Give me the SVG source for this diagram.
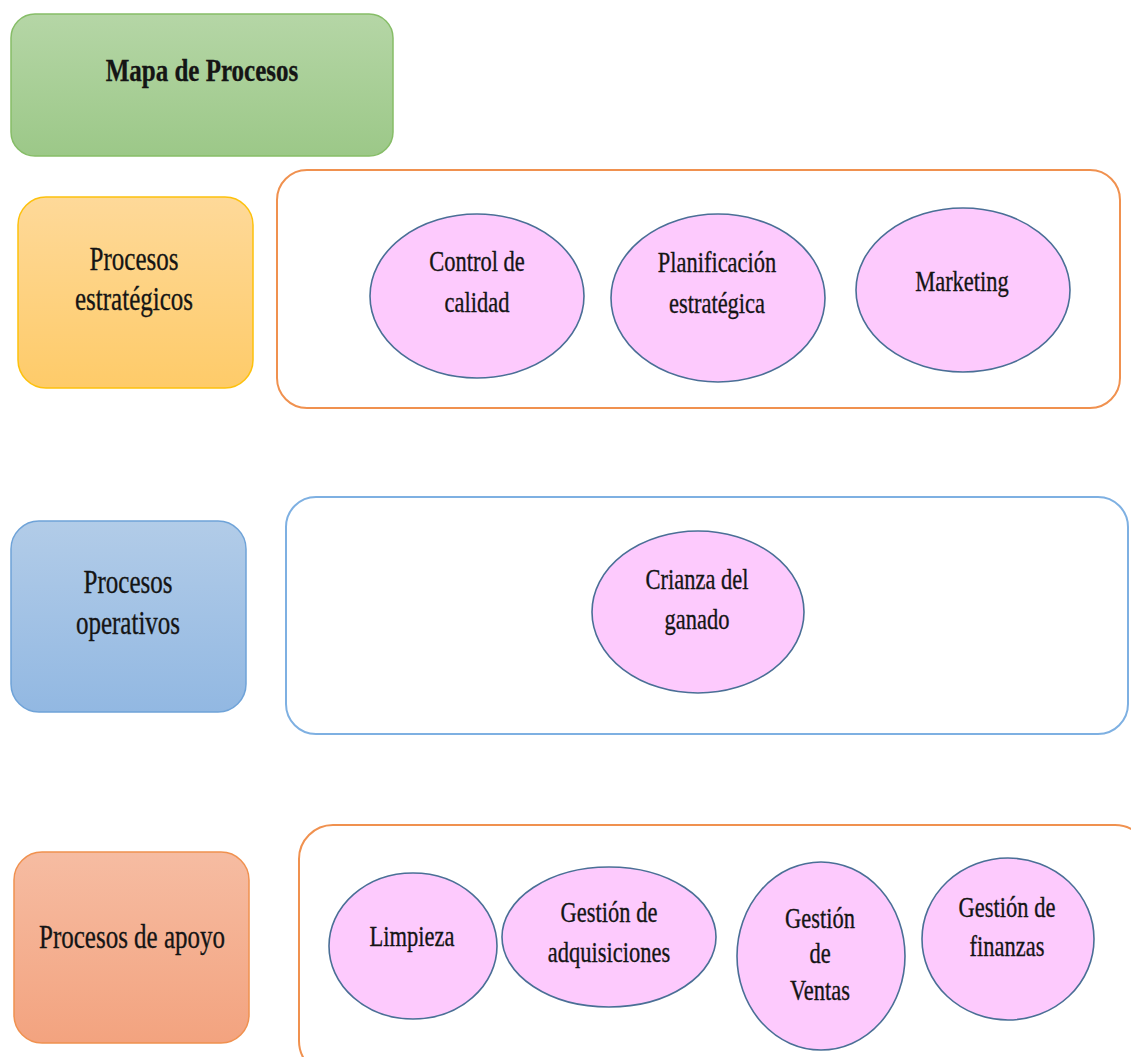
<svg xmlns="http://www.w3.org/2000/svg" width="1131" height="1057" viewBox="0 0 1131 1057">
<defs>
<linearGradient id="gGreen" x1="0" y1="0" x2="0" y2="1"><stop offset="0" stop-color="#b5d6a6"/><stop offset="1" stop-color="#9cc888"/></linearGradient>
<linearGradient id="gYellow" x1="0" y1="0" x2="0" y2="1"><stop offset="0" stop-color="#fed999"/><stop offset="1" stop-color="#fecb69"/></linearGradient>
<linearGradient id="gBlue" x1="0" y1="0" x2="0" y2="1"><stop offset="0" stop-color="#b2cce8"/><stop offset="1" stop-color="#92b8e2"/></linearGradient>
<linearGradient id="gOrange" x1="0" y1="0" x2="0" y2="1"><stop offset="0" stop-color="#f6bca2"/><stop offset="1" stop-color="#f3a37f"/></linearGradient>
<style>
.t{font-family:"Liberation Serif","Times New Roman",serif;fill:#151515;stroke:#151515;stroke-width:0.25;text-anchor:middle}
.lbl{font-size:25px}
.el{font-size:22.5px}
.title{font-size:25px;font-weight:bold}
.proc{fill:#fdcafd;stroke:#4a6f96;stroke-width:1.6}
.cont{fill:#ffffff;stroke-width:2}
</style>
</defs>
<rect width="1131" height="1057" fill="#ffffff"/>

<g id="title">
<rect x="11" y="14" width="382" height="142" rx="24" fill="url(#gGreen)" stroke="#86bd67" stroke-width="1.5"/>
<text class="t title" transform="translate(202,81) scale(1,1.28)">Mapa de Procesos</text>
</g>

<g id="lbl-estrategicos">
<rect x="18" y="197" width="235" height="191" rx="28" fill="url(#gYellow)" stroke="#fdc10d" stroke-width="1.5"/>
<text class="t lbl" transform="translate(134,270) scale(1,1.38)">Procesos</text>
<text class="t lbl" transform="translate(134,310) scale(1,1.38)">estratégicos</text>
</g>

<g id="cont-estrategicos">
<rect x="277" y="170" width="843" height="238" rx="30" class="cont" stroke="#f0914f"/>
</g>

<g id="control-calidad">
<ellipse cx="477" cy="296" rx="107" ry="82" class="proc"/>
<text class="t el" transform="translate(477,271) scale(1,1.35)">Control de</text>
<text class="t el" transform="translate(477,312) scale(1,1.35)">calidad</text>
</g>

<g id="planificacion">
<ellipse cx="718" cy="298" rx="107" ry="84" class="proc"/>
<text class="t el" transform="translate(717,272) scale(1,1.35)">Planificación</text>
<text class="t el" transform="translate(717,313) scale(1,1.35)">estratégica</text>
</g>

<g id="marketing">
<ellipse cx="963" cy="290" rx="107" ry="82" class="proc"/>
<text class="t el" transform="translate(962,291) scale(1,1.35)">Marketing</text>
</g>

<g id="lbl-operativos">
<rect x="11" y="521" width="235" height="191" rx="28" fill="url(#gBlue)" stroke="#6fa3d8" stroke-width="1.5"/>
<text class="t lbl" transform="translate(128,593) scale(1,1.38)">Procesos</text>
<text class="t lbl" transform="translate(128,634) scale(1,1.38)">operativos</text>
</g>

<g id="cont-operativos">
<rect x="286" y="497" width="842" height="237" rx="30" class="cont" stroke="#7eb0e2"/>
</g>

<g id="crianza">
<ellipse cx="698" cy="612" rx="106" ry="81" class="proc"/>
<text class="t el" transform="translate(697,589) scale(1,1.35)">Crianza del</text>
<text class="t el" transform="translate(697,629) scale(1,1.35)">ganado</text>
</g>

<g id="lbl-apoyo">
<rect x="14" y="852" width="235" height="191" rx="28" fill="url(#gOrange)" stroke="#f0914f" stroke-width="1.5"/>
<text class="t lbl" transform="translate(132,948) scale(1,1.38)">Procesos de apoyo</text>
</g>

<g id="cont-apoyo">
<rect x="299" y="825" width="850" height="250" rx="34" class="cont" stroke="#f0914f"/>
</g>

<g id="limpieza">
<ellipse cx="413" cy="946" rx="84" ry="73" class="proc"/>
<text class="t el" transform="translate(412,946) scale(1,1.35)">Limpieza</text>
</g>

<g id="adquisiciones">
<ellipse cx="609" cy="937" rx="107" ry="70" class="proc"/>
<text class="t el" transform="translate(609,922) scale(1,1.35)">Gestión de</text>
<text class="t el" transform="translate(609,962) scale(1,1.35)">adquisiciones</text>
</g>

<g id="ventas">
<ellipse cx="821" cy="956" rx="84" ry="94" class="proc"/>
<text class="t el" transform="translate(820,928) scale(1,1.35)">Gestión</text>
<text class="t el" transform="translate(820,963) scale(1,1.35)">de</text>
<text class="t el" transform="translate(820,1000) scale(1,1.35)">Ventas</text>
</g>

<g id="finanzas">
<ellipse cx="1008" cy="939" rx="86" ry="81" class="proc"/>
<text class="t el" transform="translate(1007,917) scale(1,1.35)">Gestión de</text>
<text class="t el" transform="translate(1007,956) scale(1,1.35)">finanzas</text>
</g>

<g id="connectors"></g>
</svg>
